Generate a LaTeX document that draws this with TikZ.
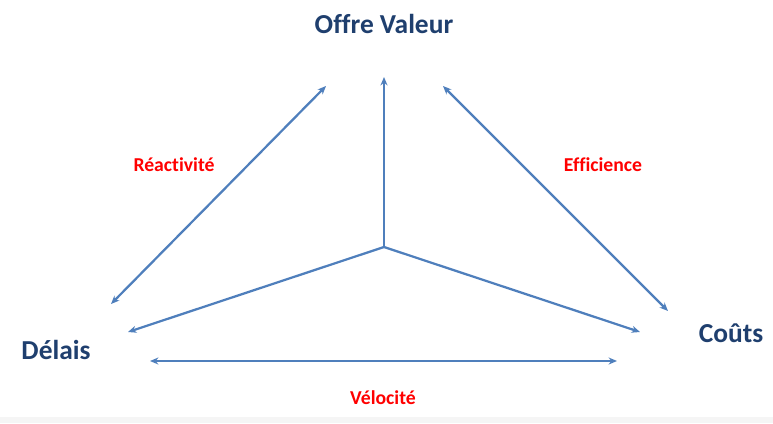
\documentclass[tikz,border=0pt]{standalone}
\usepackage{fontspec}
\setmainfont[Ligatures=CommonOff]{Carlito}
\usetikzlibrary{arrows.meta}
\definecolor{titleblue}{HTML}{1F3F6E}
\definecolor{arrowblue}{HTML}{4F7FBC}
\definecolor{stripgray}{HTML}{F5F5F5}
\tikzset{
  pole/.style={text=titleblue,font=\fontsize{19.5}{22}\selectfont\bfseries},
  axe/.style={text=red,font=\fontsize{14}{16}\selectfont\bfseries},
  fleche/.style={arrowblue,line width=1.6pt,-{Stealth[length=6pt,width=5pt]}},
  dfleche/.style={fleche,{Stealth[length=6pt,width=5pt]}-{Stealth[length=6pt,width=5pt]}}
}
\begin{document}
\begin{tikzpicture}[x=0.025cm,y=-0.025cm]
\useasboundingbox (0,0) rectangle (773,423);
\fill[stripgray] (0,417) rectangle (773,423);
\node[pole] (offre) at (384,24) {Offre Valeur};
\node[pole] (delais) at (56,350) {Délais};
\node[pole] (couts) at (731,333) {Coûts};
\node[axe] (reac) at (174,165) {Réactivité};
\node[axe] (effi) at (603,165) {Efficience};
\node[axe] (velo) at (383,398) {Vélocité};
\coordinate (centre) at (384,247);
\coordinate (haut) at (384,77);
\coordinate (gauche) at (128,332);
\coordinate (droite) at (640,332);
\coordinate (rg1) at (111,304); \coordinate (rg2) at (326,86);
\coordinate (ed1) at (443,86); \coordinate (ed2) at (668,311);
\coordinate (vb1) at (150,361); \coordinate (vb2) at (617,361);
\draw[fleche] (centre) -- (haut);
\draw[fleche] (centre) -- (gauche);
\draw[fleche] (centre) -- (droite);
\draw[dfleche] (rg1) -- (rg2);
\draw[dfleche] (ed1) -- (ed2);
\draw[dfleche] (vb1) -- (vb2);
\end{tikzpicture}
\end{document}
